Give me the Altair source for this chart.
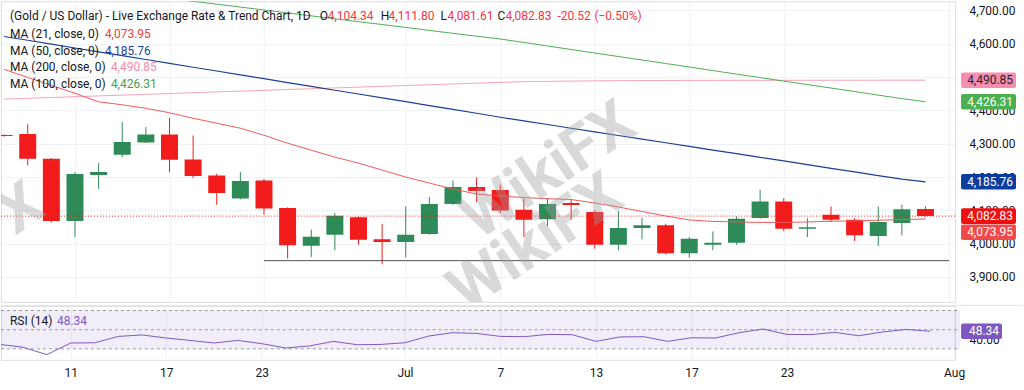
import altair as alt
import pandas as pd

# ---------------- data ----------------
bar_index = list(range(-1, 39))
trade_days = ["Jun 8", "Jun 9", "Jun 10", "Jun 11", "Jun 12", "Jun 15", "Jun 16", "Jun 17",
              "Jun 18", "Jun 19", "Jun 22", "Jun 23", "Jun 24", "Jun 25", "Jun 26", "Jun 29",
              "Jun 30", "Jul 1", "Jul 2", "Jul 3", "Jul 6", "Jul 7", "Jul 8", "Jul 9", "Jul 10",
              "Jul 13", "Jul 14", "Jul 15", "Jul 16", "Jul 17", "Jul 20", "Jul 21", "Jul 22",
              "Jul 23", "Jul 24", "Jul 27", "Jul 28", "Jul 29", "Jul 30", "Jul 31"]
opens = [4326, 4329, 4255, 4068, 4206, 4267, 4304, 4328, 4253, 4205, 4136, 4190, 4107, 3994,
         4027, 4079, 4013, 4005, 4029, 4119, 4170, 4161, 4102, 4073, 4122, 4095, 3997, 4047,
         4055, 3971, 3997, 4003, 4077, 4127, 4045, 4087, 4072, 4023, 4062, 4104.34]
highs = [4328, 4359, 4257, 4215, 4242, 4365, 4350, 4378, 4325, 4210, 4215, 4195, 4109, 4042,
         4092, 4082, 4059, 4112, 4140, 4190, 4199, 4177, 4135, 4137, 4135, 4100, 4098, 4077,
         4060, 4020, 4037, 4082, 4162, 4137, 4077, 4112, 4077, 4112, 4117, 4111.80]
lows = [4321, 4235, 4064, 4020, 4165, 4260, 4302, 4215, 4197, 4117, 4133, 4087, 3955, 3960,
        3980, 3997, 3938, 3958, 4027, 4117, 4125, 4092, 4020, 4052, 4072, 3985, 3980, 4013,
        3968, 3958, 3980, 3997, 4075, 4037, 4020, 4065, 4008, 3993, 4025, 4081.61]
closes = [4323, 4255, 4068, 4209, 4215, 4305, 4328, 4252, 4203, 4152, 4188, 4106, 3995, 4021,
          4084, 4012, 4005, 4027, 4119, 4170, 4158, 4100, 4072, 4119, 4116, 3997, 4047, 4055,
          3971, 4015, 4003, 4075, 4127, 4045, 4049, 4072, 4025, 4065, 4103.35, 4082.83]
ma21 = [4523.4, 4499.4, 4475.5, 4451.5, 4426.0, 4417.1, 4406.6, 4393.1, 4376.6, 4361.7,
        4346.7, 4325.7, 4301.8, 4280.8, 4259.9, 4241.9, 4221.0, 4200.0, 4182.0, 4164.1,
        4149.1, 4143.1, 4138.6, 4135.0, 4132.6, 4122.2, 4110.2, 4096.7, 4083.2, 4071.3,
        4066.8, 4065.3, 4063.8, 4063.8, 4065.3, 4067.4, 4068.3, 4070.4, 4072.3, 4073.95]
ma50 = [4622.2, 4610.8, 4599.1, 4587.7, 4576.0, 4564.7, 4553.0, 4541.3, 4529.9, 4518.6,
        4506.9, 4495.5, 4483.8, 4472.5, 4460.8, 4449.4, 4437.7, 4426.4, 4414.7, 4403.3,
        4391.6, 4379.6, 4368.6, 4357.8, 4346.7, 4335.9, 4324.8, 4314.1, 4303.0, 4292.2,
        4281.1, 4270.4, 4259.3, 4248.5, 4237.4, 4226.3, 4215.6, 4204.5, 4193.7, 4185.76]
ma100 = [4797.6, 4789.0, 4780.3, 4771.6, 4762.9, 4754.2, 4745.2, 4736.5, 4727.8, 4719.2,
         4710.5, 4701.8, 4692.8, 4684.1, 4675.4, 4666.7, 4658.1, 4649.4, 4640.4, 4631.7,
         4623.0, 4614.7, 4604.2, 4593.7, 4583.2, 4572.5, 4562.0, 4551.5, 4541.1, 4530.6,
         4519.8, 4509.3, 4498.8, 4488.3, 4477.8, 4467.4, 4456.9, 4446.1, 4435.6, 4426.31]
ma200 = [4434.1, 4436.5, 4438.9, 4441.3, 4443.7, 4446.1, 4448.5, 4450.9, 4453.3, 4455.7,
         4458.1, 4460.5, 4462.9, 4465.3, 4467.7, 4470.1, 4472.5, 4474.9, 4477.2, 4479.6,
         4482.0, 4484.4, 4486.5, 4487.4, 4488.3, 4488.9, 4489.5, 4489.8, 4490.1, 4490.4,
         4490.5, 4490.6, 4490.6, 4490.7, 4490.7, 4490.8, 4490.8, 4490.8, 4490.9, 4490.85]
rsi14 = [34.7, 31.7, 23.9, 36.1, 36.3, 43.0, 44.5, 41.3, 38.8, 36.1, 38.8, 35.4, 30.9, 33.0,
         37.8, 34.3, 34.6, 36.4, 43.4, 46.9, 46.1, 43.0, 42.7, 45.1, 44.8, 37.8, 42.4, 42.7,
         37.8, 41.6, 41.3, 46.9, 50.7, 45.1, 44.9, 47.2, 43.7, 47.6, 50.3, 48.34]

time_tick_bars = [2, 6, 10, 16, 20, 24, 28, 32, 39]
time_tick_labels = ["11", "17", "23", "Jul", "7", "13", "17", "23", "Aug"]
price_ticks = [3900, 4000, 4100, 4200, 4300, 4400, 4500, 4600, 4700]
rsi_ticks = [40]
rsi_band = [30, 70]
rsi_levels = [70, 50, 30]
support_bars = [10, 39]
support_levels = [3949, 3949]

title_text = "(Gold / US Dollar) - Live Exchange Rate & Trend Chart, 1D"
ohlc_keys = ["O", "H", "L", "C"]
ohlc_vals = ["4,104.34", "4,111.80", "4,081.61", "4,082.83"]
change_texts = ["-20.52", "(\u22120.50%)"]
ma_names = ["MA (21, close, 0)", "MA (50, close, 0)", "MA (200, close, 0)", "MA (100, close, 0)"]
ma_last = [4073.95, 4185.76, 4490.85, 4426.31]
rsi_name = "RSI (14)"
rsi_last = 48.34
watermark = "WikiFX"

# ---------------- styling ----------------
FONT = "Roboto"
DARK = "#131722"
RED = "#f21c1c"
GREEN = "#2e8b57"
GRID = "#eef1f6"
W, H_MAIN, H_RSI = 955, 301, 54
C_MA21, C_MA50, C_MA100, C_MA200 = "#ef5a5a", "#1c3f94", "#4caf50", "#f5a3b5"
PURPLE = "#7e57c2"

df = pd.DataFrame({
    "bar": bar_index, "day": trade_days, "open": opens, "high": highs, "low": lows,
    "close": closes, "ma21": ma21, "ma50": ma50, "ma100": ma100, "ma200": ma200, "rsi": rsi14,
})
df["dir"] = ["up" if c >= o else "down" for o, c in zip(opens, closes)]

xscale = alt.Scale(domain=[-0.92, 39.04], nice=False, zero=False)
yscale = alt.Scale(domain=[3825.2, 4728.2], nice=False, zero=False)
rscale = alt.Scale(domain=[18.5, 74.9], nice=False, zero=False)

x_main = alt.X("bar:Q", scale=xscale, title=None,
               axis=alt.Axis(values=time_tick_bars, labels=False, ticks=False, domain=False,
                             grid=True, gridColor=GRID, title=None))
y_axis = alt.Axis(orient="right", values=price_ticks, format=",.2f", labelFont=FONT,
                  labelFontSize=12, labelColor=DARK, ticks=False, domain=False, grid=True,
                  gridColor=GRID, labelPadding=14, labelAlign="left", labelOverlap=False,
                  title=None)


def Y(field):
    return alt.Y(field, scale=yscale, axis=y_axis, title=None)


color_enc = alt.Color("dir:N", scale=alt.Scale(domain=["up", "down"], range=[GREEN, RED]),
                      legend=None)

base = alt.Chart(df)
wicks = base.mark_rule(clip=True, strokeWidth=1).encode(x=x_main, y=Y("low:Q"), y2="high:Q",
                                                         color=color_enc)
bodies = base.mark_bar(clip=True, size=17).encode(x=x_main, y=Y("open:Q"), y2="close:Q",
                                                   color=color_enc)


def ma_line(field, color, w=1.0):
    return base.mark_line(clip=True, color=color, strokeWidth=w).encode(x=x_main, y=Y(f"{field}:Q"))


price_line = base.transform_filter("datum.bar == 38").mark_rule(
    color=RED, strokeDash=[1, 2], strokeWidth=1).encode(x=alt.value(0), x2=alt.value(W), y=Y("close:Q"))

sup_df = pd.DataFrame({"bar": support_bars, "level": support_levels})
support = alt.Chart(sup_df).mark_line(color="#505050", strokeWidth=1).encode(x=x_main, y=Y("level:Q"))


def label(txt, x, y, color, size=12, weight="normal", align="left", angle=0, opacity=1.0,
          clip=False):
    return alt.Chart(pd.DataFrame({"t": [txt]})).mark_text(
        align=align, baseline="middle", font=FONT, fontSize=size, color=color,
        fontWeight=weight, angle=angle, opacity=opacity, clip=clip).encode(
        x=alt.value(x), y=alt.value(y), text="t:N")


def tag(value, fill, text_color, scale, axis, half, x0, x1, xt, shift=0):
    d = pd.DataFrame({"v": [value], "t": [f"{value:,.2f}"]})
    c = alt.Chart(d).transform_calculate(lo=f"datum.v - {half}", hi=f"datum.v + {half}")
    rect = c.mark_rect(color=fill, yOffset=shift, y2Offset=shift, cornerRadius=2).encode(
        x=alt.value(x0), x2=alt.value(x1),
        y=alt.Y("lo:Q", scale=scale, axis=axis, title=None), y2="hi:Q")
    txt = c.mark_text(align="right", baseline="middle", font=FONT, fontSize=12,
                      color=text_color, yOffset=shift).encode(
        x=alt.value(xt), y=alt.Y("v:Q", scale=scale, axis=axis, title=None), text="t:N")
    return [rect, txt]


main_layers = [wicks, bodies,
               ma_line("ma200", C_MA200), ma_line("ma100", C_MA100),
               ma_line("ma50", C_MA50, 1.2), ma_line("ma21", C_MA21),
               price_line, support]

# watermark (clipped to the plot so it never enlarges the layout)
WM = "#9e9e9e"
main_layers += [
    label(watermark, 548, 170, WM, size=62, weight="bold", align="center", angle=326,
          opacity=0.38, clip=True),
    label(watermark, 535, 242, WM, size=62, weight="bold", align="center", angle=326,
          opacity=0.38, clip=True),
    label("X", 20, 208, WM, size=62, weight="bold", align="center", angle=326,
          opacity=0.38, clip=True),
]

# right-hand price tags
half = 23.4
main_layers += tag(ma_last[2], "#f48fb1", "#1e222d", yscale, y_axis, half, 961, 1016, 1013)
main_layers += tag(ma_last[3], C_MA100, "white", yscale, y_axis, half, 961, 1016, 1013)
main_layers += tag(ma_last[1], "#0d3d9e", "white", yscale, y_axis, half, 961, 1016, 1013)
main_layers += tag(closes[-1], "#ee1010", "white", yscale, y_axis, half, 961, 1016, 1013)
main_layers += tag(ma_last[0], "#f24a4a", "white", yscale, y_axis, half, 961, 1016, 1013, shift=13.2)

# header legend
main_layers.append(label(title_text, 9, 15, DARK, size=12))
for k, v, xk, xv in zip(ohlc_keys, ohlc_vals, [319, 380, 440, 497], [327, 388, 447, 505]):
    main_layers.append(label(k, xk, 15, DARK))
    main_layers.append(label(v, xv, 15, "#f23645"))
main_layers.append(label(change_texts[0], 557, 15, "#f23645"))
main_layers.append(label(change_texts[1], 594, 15, "#f23645"))
ma_colors_txt = ["#f03c3c", "#1f3f99", "#f28aa8", "#43a047"]
for name, val, col, yy, xv in zip(ma_names, ma_last, ma_colors_txt, [32.7, 50, 66.3, 82.7],
                                  [104, 104, 110, 110]):
    main_layers.append(label(name, 9, yy, DARK))
    main_layers.append(label(f"{val:,.2f}", xv, yy, col))

main = alt.layer(*main_layers).properties(width=W, height=H_MAIN)

# ---------------- RSI panel ----------------
label_expr = " : ".join(f"datum.value == {b} ? '{l}'" for b, l in zip(time_tick_bars, time_tick_labels)) + " : ''"
x_rsi = alt.X("bar:Q", scale=xscale, title=None,
              axis=alt.Axis(values=time_tick_bars, labelExpr=label_expr, ticks=False, domain=False,
                            grid=True, gridColor=GRID, labelFont=FONT, labelFontSize=12,
                            labelColor=DARK, labelPadding=8, labelFlush=False,
                            labelOverlap=False, title=None))
r_axis = alt.Axis(orient="right", values=rsi_ticks, format=".2f", labelFont=FONT,
                  labelFontSize=12, labelColor=DARK, ticks=False, domain=False, grid=False,
                  labelPadding=14, labelAlign="left", title=None)


def R(field):
    return alt.Y(field, scale=rscale, axis=r_axis, title=None)


band_df = pd.DataFrame({"lo": [rsi_band[0]], "hi": [rsi_band[1]]})
band = alt.Chart(band_df).mark_rect(color=PURPLE, opacity=0.1).encode(
    x=alt.value(0), x2=alt.value(W + 5), y=R("lo:Q"), y2="hi:Q")
lev_df = pd.DataFrame({"lvl": rsi_levels})
levels = alt.Chart(lev_df).mark_rule(color="#9598a1", strokeDash=[3, 3], strokeWidth=1).encode(
    x=alt.value(0), x2=alt.value(W + 5), y=R("lvl:Q"))
rsi_line = base.mark_line(clip=True, color=PURPLE, strokeWidth=1).encode(x=x_rsi, y=R("rsi:Q"))
sep = alt.Chart(pd.DataFrame({"a": [0]})).mark_rule(color="#e0e3eb", strokeWidth=1).encode(
    x=alt.value(0), x2=alt.value(1023), y=alt.value(-0.5))

rsi_layers = [band, levels, rsi_line, sep,
              label(rsi_name, 9, 14.7, DARK),
              label(f"{rsi_last:.2f}", 56, 14.7, PURPLE)]
rsi_layers += tag(rsi_last, PURPLE, "white", rscale, r_axis, 8.1, 961, 1002, 999)

rsi = alt.layer(*rsi_layers).properties(width=W, height=H_RSI)

chart = alt.vconcat(main, rsi, spacing=1).properties(padding=0).configure_view(
    stroke=None).configure(background="white")

chart.save("out.html", embed_options={"renderer": "svg", "actions": False})
